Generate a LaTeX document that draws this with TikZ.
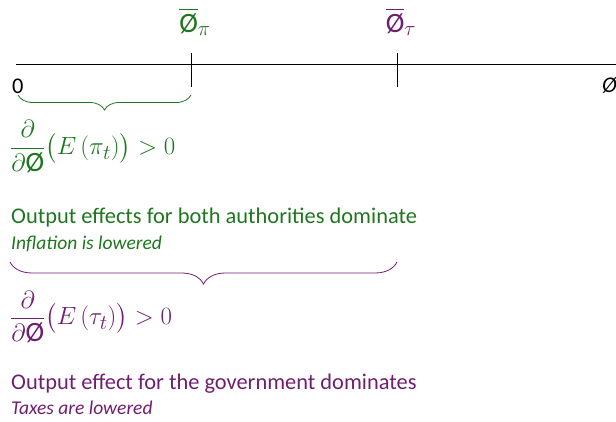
\documentclass[tikz,border=0pt]{standalone}
\usepackage{fontspec}
\usepackage{amsmath}
\setmainfont{Carlito}
\newfontfamily\carl{Carlito}
\usetikzlibrary{positioning,decorations.pathreplacing}
\definecolor{infl}{RGB}{30,118,30}
\definecolor{taxc}{RGB}{112,30,112}
\newcommand{\slo}{\mbox{\carl Ø}}
\tikzset{
  txt/.style={anchor=west, inner sep=0pt, font=\fontsize{22.4}{26}\selectfont},
  note/.style={anchor=west, inner sep=0pt, font=\fontsize{19.5}{23}\selectfont\itshape},
  eqn/.style={anchor=west, inner sep=0pt, font=\fontsize{28}{33}\selectfont},
  brc/.style={decorate, decoration={brace, mirror, amplitude=#1}, thick},
  tick/.style={thick},
}
\begin{document}
\begin{tikzpicture}[x=1pt,y=1pt]
  \useasboundingbox (0,0) rectangle (616,422);
  % axis
  \coordinate (ax0) at (16,358);
  \coordinate (ax1) at (616,358);
  \draw[thick] (ax0) -- (ax1);
  \coordinate (pi) at (191,358);
  \coordinate (tau) at (397,358);
  \draw[tick] ([yshift=11]pi) -- ([yshift=-23]pi);
  \draw[tick] ([yshift=11]tau) -- ([yshift=-23]tau);
  \node[eqn, anchor=center, text=infl] (lpi) at (195,400) {$\overline{\slo}_{\pi}$};
  \node[eqn, anchor=center, text=taxc] (ltau) at (401,400) {$\overline{\slo}_{\tau}$};
  \node[txt] (zero) at (12,336) {0};
  \node[txt] (phi) at (602,336) {\itshape Ø};

  % inflation
  \coordinate (b0) at (18,327);
  \coordinate (b1) at (191,327);
  \draw[brc=15, infl] (b0) -- (b1);
  \node[eqn, text=infl] (dpi) at (10,275)
    {$\dfrac{\partial}{\partial\slo}\big(E\,(\pi_t)\big)>0$};
  \node[txt, text=infl] (opi) at (11,204) {Output effects for both authorities dominate};
  \node[note, text=infl] (npi) at (11,178) {Inflation is lowered};

  % taxes
  \coordinate (c0) at (10,160);
  \coordinate (c1) at (397,160);
  \draw[brc=22, taxc] (c0) -- (c1);
  \node[eqn, text=taxc] (dtau) at (10,105)
    {$\dfrac{\partial}{\partial\slo}\big(E\,(\tau_t)\big)>0$};
  \node[txt, text=taxc] (otau) at (11,38) {Output effect for the government dominates};
  \node[note, text=taxc] (ntau) at (11,14) {Taxes are lowered};
\end{tikzpicture}
\end{document}
